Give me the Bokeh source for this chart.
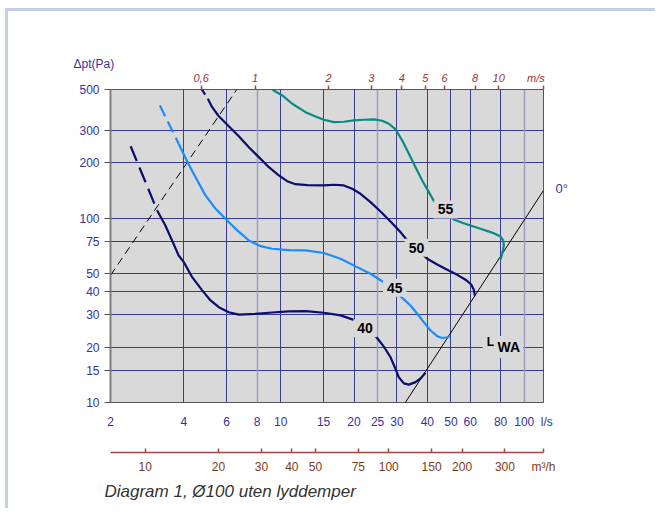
import math
from bokeh.plotting import figure
from bokeh.models import (LogAxis, Range1d, FixedTicker, Grid, LogScale, Title,
                          CustomJSTickFormatter, PrintfTickFormatter, ColumnDataSource)
from bokeh.core.properties import value
from bokeh.embed import file_html
from bokeh.resources import INLINE

# ---------------- data ----------------
q_ticks = [2, 4, 6, 8, 10, 15, 20, 25, 30, 40, 50, 60, 80, 100]
dp_ticks = [10, 15, 20, 30, 40, 50, 75, 100, 200, 300, 500]
ms_ticks = [0.6, 1, 2, 3, 4, 5, 6, 8, 10]
m3h_ticks = [10, 20, 30, 40, 50, 75, 100, 150, 200, 300]
grid_dark_q = [4, 6, 10, 15, 20, 30, 40, 50, 60, 80]
grid_light_q = [8, 25, 100]

c40_dash_q = [2.42, 3.11]
c40_dash_dp = [246, 110.3]
c40_q = [3.11, 3.36, 3.58, 3.81, 4.00, 4.33, 4.76, 5.15, 5.57, 6.12, 6.73, 7.88, 9.23, 10.80, 12.65,
         15.03, 17.61, 19.96, 24.74, 26.52, 28.25, 29.62, 30.55, 32.04, 33.60, 35.78, 37.52, 39.32]
c40_dp = [110.3, 91.4, 75.8, 62.8, 57.8, 47.9, 40.6, 35.8, 32.9, 30.9, 30.0, 30.3, 30.8, 31.2, 31.3,
          30.7, 29.7, 28.1, 22.6, 20.1, 17.6, 15.2, 13.7, 12.7, 12.5, 12.9, 13.5, 14.5]

c45_dash_q = [3.19, 3.81]
c45_dash_dp = [410, 253.8]
c45_q = [3.81, 4.13, 4.47, 4.91, 5.40, 5.93, 6.63, 7.40, 8.26, 9.23, 10.80, 12.65, 15.03, 17.61, 20.6,
         23.38, 26.11, 31.55, 34.12, 36.36, 38.70, 41.24, 43.94, 46.06, 48.28, 49.48]
c45_dp = [253.8, 203.4, 167.1, 133.0, 112.6, 99.4, 85.9, 75.8, 70.6, 68.3, 67.1, 66.9, 64.8, 60.3, 54.3,
          50.0, 45.5, 37.0, 33.6, 30.3, 27.3, 24.6, 22.9, 22.4, 22.6, 22.9]

c50_dash_q = [4.70, 5.02]
c50_dash_dp = [510, 445]
c50_q = [5.02, 5.23, 5.57, 6.12, 6.73, 7.40, 8.13, 8.94, 9.82, 10.63, 11.50, 12.85, 15.03, 16.52, 18.16,
         19.66, 21.26, 23.38, 25.70, 28.25, 31.04, 32.86, 39.96, 43.94, 48.28, 53.08, 57.42, 60.58, 62.1, 62.68]
c50_dp = [445, 401, 358, 316, 279, 243, 214.7, 189.4, 170.8, 159.0, 153.1, 151.4, 150.7, 152.0, 150.7,
          144.6, 135.8, 122.3, 108.9, 96.1, 84.1, 76.7, 60.3, 56.1, 52.5, 49.3, 46.4, 43.7, 40.9, 38.1]

c55_q = [9.23, 10.15, 11.15, 12.65, 13.90, 15.03, 16.52, 18.16, 19.96, 21.95, 24.12, 26.11, 27.80, 29.62,
         31.55, 33.60, 35.78, 38.12, 40.58, 42.82, 51.4, 55.64, 60.18, 66.14, 72.72, 75.02, 79.94, 82.0,
         82.48, 81.48, 80.46, 79.94]
c55_dp = [500, 464.2, 418.5, 376.7, 357.0, 342.5, 332.4, 334.1, 339.6, 342.5, 343.9, 338.3, 325.9, 303.5,
          264.5, 223.9, 189.4, 160.4, 138.6, 122.3, 98.5, 94.5, 91.4, 87.7, 84.1, 83.0, 79.6, 75.8,
          71.2, 65.5, 61.5, 59.7]

sys_q = [2.0, 6.6]
sys_dp = [49, 500]
zero_q = [32.5, 120]
zero_dp = [10, 141.6]

curve_label_q = [47.5, 36.1, 29.4, 22.2]
curve_label_dp = [111.6, 69.2, 41.9, 25.3]
curve_label_txt = ["55", "50", "45", "40"]

lwa_q = [72.7]
lwa_dp = [21.2]
lwa_sub_q = [86.5]
lwa_sub_dp = [20.0]

zero_label_dp = [145]
zero_label_txt = "0\u00b0"
y_title = "\u0394pt(Pa)"
q_unit = "l/s"
ms_unit = "m/s"
m3h_unit = "m\u00b3/h"
caption = "Diagram 1, \u00d8100 uten lyddemper"

Q_MIN, Q_MAX = 2, 120
DP_MIN, DP_MAX = 10.0, 500.0
DUCT_D = 0.1  # m
MS_PER_LS = 1.0 / 1000.0 / (math.pi * DUCT_D ** 2 / 4.0)
M3H_PER_LS = 3.6

# ---------------- styling ----------------
FONT = "Liberation Sans"
BLUE_TXT = "#333399"
GRID_DARK = "#3a3a9a"
GRID_LIGHT = "#9c9cc4"
NAVY = "#0d0d6e"
LIGHTBLUE = "#1a8cff"
TEAL = "#0a8a84"
RED = "#a84444"
RED_TXT = "#a03030"
BROWN = "#7a3a1a"
BG = "#d9d9d9"
NB = "\u00a0"

p = figure(width=650, height=500, x_axis_type="log", y_axis_type="log",
           x_range=Range1d(Q_MIN, Q_MAX), y_range=Range1d(DP_MIN, DP_MAX),
           output_backend="svg", toolbar_location=None,
           min_border_left=102, min_border_right=115, min_border_top=78, min_border_bottom=109,
           background_fill_color=BG, border_fill_color="white")
p.outline_line_color = "#555555"
p.outline_line_width = 1

p.xgrid.ticker = FixedTicker(ticks=grid_dark_q)
p.xgrid.grid_line_color = GRID_DARK
p.xgrid.grid_line_width = 1
p.ygrid.ticker = FixedTicker(ticks=dp_ticks)
p.ygrid.grid_line_color = GRID_DARK
p.ygrid.grid_line_width = 1
p.add_layout(Grid(dimension=0, ticker=FixedTicker(ticks=grid_light_q),
                  grid_line_color=GRID_LIGHT, grid_line_width=1.5))

ya = p.yaxis[0]
ya.ticker = FixedTicker(ticks=dp_ticks)
ya.formatter = PrintfTickFormatter(format="%d")
ya.axis_line_color = "#808080"
ya.axis_line_width = 2
ya.major_tick_out = 6
ya.major_tick_in = 0
ya.major_tick_line_color = "#555555"
ya.minor_tick_line_color = None
ya.major_label_standoff = 5
ya.major_label_text_color = BLUE_TXT
ya.major_label_text_font = FONT
ya.major_label_text_font_size = "12px"

# bottom l/s axis, unit shown as label of the tick at the right end
xa = p.xaxis[0]
xa.ticker = FixedTicker(ticks=q_ticks + [Q_MAX])
xa.formatter = PrintfTickFormatter(format="%d")
xa.major_label_overrides = {Q_MAX: NB * 2 + q_unit}
xa.axis_line_color = None
xa.major_tick_out = 0
xa.major_tick_in = 0
xa.minor_tick_line_color = None
xa.major_label_standoff = 12
xa.major_label_text_color = BLUE_TXT
xa.major_label_text_font = FONT
xa.major_label_text_font_size = "12px"
xa.axis_label = " "
xa.axis_label_text_font_size = "12px"
xa.axis_label_standoff = 4

ms_end = Q_MAX * MS_PER_LS
m3h_end = Q_MAX * M3H_PER_LS
p.extra_x_ranges = {"ms": Range1d(Q_MIN * MS_PER_LS, ms_end),
                    "m3h": Range1d(Q_MIN * M3H_PER_LS, m3h_end)}
p.extra_x_scales = {"ms": LogScale(), "m3h": LogScale()}

ax_ms = LogAxis(x_range_name="ms", ticker=FixedTicker(ticks=ms_ticks + [ms_end]),
                formatter=CustomJSTickFormatter(
                    args=dict(last=ms_end, unit=ms_unit + NB * 5),
                    code="return tick >= last*0.999 ? unit : String(tick).replace('.', ',')"))
ax_ms.axis_line_color = None
ax_ms.major_tick_out = 4
ax_ms.major_tick_in = 0
ax_ms.major_tick_line_color = RED
ax_ms.major_tick_line_width = 1.5
ax_ms.minor_tick_line_color = None
ax_ms.major_label_standoff = 2
ax_ms.major_label_text_color = RED_TXT
ax_ms.major_label_text_font = FONT
ax_ms.major_label_text_font_style = "italic"
ax_ms.major_label_text_font_size = "11px"
p.add_layout(ax_ms, "above")

ax_m3h = LogAxis(x_range_name="m3h", ticker=FixedTicker(ticks=m3h_ticks + [m3h_end]),
                 formatter=CustomJSTickFormatter(
                     args=dict(last=m3h_end, unit=m3h_unit),
                     code="return tick >= last*0.999 ? unit : String(tick)"))
ax_m3h.axis_line_color = RED
ax_m3h.axis_line_width = 1.5
ax_m3h.major_tick_out = 0
ax_m3h.major_tick_in = 4
ax_m3h.major_tick_line_color = RED
ax_m3h.major_tick_line_width = 1.5
ax_m3h.minor_tick_line_color = None
ax_m3h.major_label_standoff = 7
ax_m3h.major_label_text_color = BROWN
ax_m3h.major_label_text_font = FONT
ax_m3h.major_label_text_font_size = "12px"
p.add_layout(ax_m3h, "below")

# right axis only carrying the "0°" text at the end of the 0° line
ax_r = LogAxis(ticker=FixedTicker(ticks=zero_label_dp),
               formatter=CustomJSTickFormatter(args=dict(t=zero_label_txt), code="return t"))
ax_r.axis_line_color = None
ax_r.major_tick_line_color = None
ax_r.minor_tick_line_color = None
ax_r.major_label_standoff = 6
ax_r.major_label_text_color = BLUE_TXT
ax_r.major_label_text_font = FONT
ax_r.major_label_text_font_size = "13px"
p.add_layout(ax_r, "right")

# titles
p.title.text = y_title
p.title.align = "left"
p.title.offset = -37
p.title.standoff = -4
p.title.text_font = FONT
p.title.text_font_size = "12px"
p.title.text_font_style = "normal"
p.title.text_color = BLUE_TXT

p.add_layout(Title(text=caption, align="left", offset=-6, standoff=7, text_font=FONT,
                   text_font_size="17px", text_font_style="italic", text_color="#333333"), "below")

p.line(sys_q, sys_dp, line_color="black", line_width=1, line_dash="8 5")
p.line(zero_q, zero_dp, line_color="black", line_width=1)

p.line(c55_q, c55_dp, line_color=TEAL, line_width=2.2, line_join="round")
p.line(c50_dash_q, c50_dash_dp, line_color=NAVY, line_width=2.2, line_dash="8 6")
p.line(c50_q, c50_dp, line_color=NAVY, line_width=2.2, line_join="round")
p.line(c45_dash_q, c45_dash_dp, line_color=LIGHTBLUE, line_width=2.2, line_dash="12 6")
p.line(c45_q, c45_dp, line_color=LIGHTBLUE, line_width=2.2, line_join="round")
p.line(c40_dash_q, c40_dash_dp, line_color=NAVY, line_width=2.2, line_dash="16 7")
p.line(c40_q, c40_dp, line_color=NAVY, line_width=2.2, line_join="round")

src = ColumnDataSource(dict(x=curve_label_q, y=curve_label_dp, t=curve_label_txt))
p.text(x="x", y="y", text="t", source=src, text_font=value(FONT), text_font_size="14px",
       text_font_style="bold", text_color="black", text_align="center", text_baseline="middle",
       background_fill_color=BG, padding=4)
p.text(x=lwa_q, y=lwa_dp, text=["L"], text_font=value(FONT), text_font_size="12px",
       text_font_style="bold", text_color="black", text_align="center", text_baseline="middle",
       background_fill_color=BG, padding=4)
p.text(x=lwa_sub_q, y=lwa_sub_dp, text=["WA"], text_font=value(FONT), text_font_size="14px",
       text_font_style="bold", text_color="black", text_align="center", text_baseline="middle",
       background_fill_color=BG, padding=3)

p.styles = {"margin-left": "5px", "margin-top": "8px",
            "border-top": "3px solid #c5cfe6", "border-left": "3px solid #c5cfe6"}

open("out.html", "w").write(file_html(p, INLINE))
